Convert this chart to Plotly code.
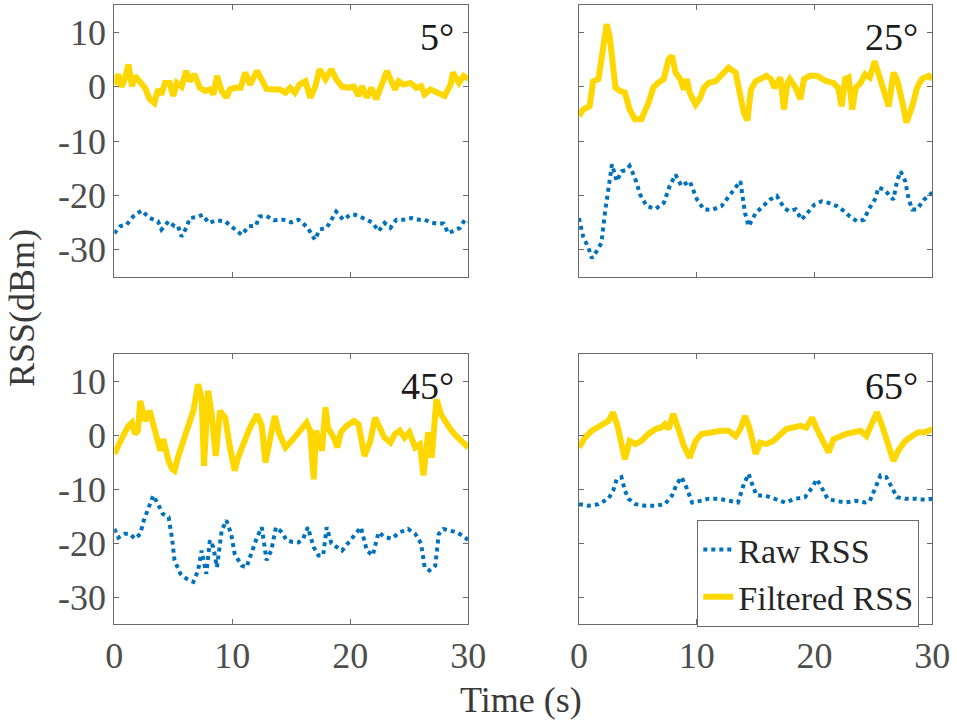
import plotly.graph_objects as go

# ---- 5 degrees ----
t_5_raw = [0, 0.5, 1.05, 1.6, 2.3, 3.0, 3.7, 4.0, 4.6, 5.1, 5.4, 5.7, 6.1, 6.4, 7.0, 7.5, 8.0, 8.7, 9.4,
           9.9, 10.8, 11.4, 12.0, 12.3, 12.9, 13.5, 14.3, 15.0, 15.6, 16.0, 16.4, 17.0, 17.4, 18.0, 18.3,
           18.8, 19.4, 20.0, 20.4, 20.8, 21.4, 21.9, 22.4, 22.9, 23.4, 23.9, 24.5, 25.2, 25.8, 26.3, 26.8,
           27.3, 27.9, 28.3, 28.9, 29.3, 29.7, 30.0]
rss_5_raw = [-27.0, -25.7, -25.4, -23.9, -22.8, -24.2, -24.8, -26.3, -24.8, -25.7, -25.7, -27.6, -26.0,
             -24.2, -24.0, -23.6, -25.1, -24.6, -24.8, -25.7, -27.3, -25.7, -25.6, -23.9, -23.8, -24.6,
             -24.5, -25.0, -24.5, -25.2, -26.0, -28.2, -26.3, -26.0, -24.8, -23.0, -24.5, -23.6, -23.6,
             -23.9, -24.5, -25.1, -26.6, -25.1, -26.0, -24.5, -24.5, -24.2, -24.5, -24.5, -25.0, -25.2,
             -25.2, -27.0, -26.3, -26.0, -24.5, -24.8]
t_5_filt = [0, 0.34, 0.6, 0.9, 1.2, 1.5, 1.75, 2.2, 2.6, 3.0, 3.4, 3.7, 4.0, 4.3, 4.7, 5.0, 5.3, 5.7,
            6.1, 6.4, 6.8, 7.25, 7.7, 8.1, 8.4, 8.7, 9.1, 9.5, 9.8, 10.2, 10.7, 11.1, 11.5, 12.1, 12.5,
            12.9, 13.5, 14.0, 14.5, 14.9, 15.3, 15.7, 16.2, 16.6, 17.0, 17.4, 17.9, 18.4, 18.8, 19.3,
            19.8, 20.3, 20.7, 21.0, 21.4, 21.8, 22.2, 22.7, 23.1, 23.4, 23.8, 24.1, 24.5, 25.1, 25.6,
            26.0, 26.3, 26.8, 27.3, 28.0, 28.5, 28.7, 29.2, 29.6, 30.0]
rss_5_filt = [0.4, 2.3, 0.0, 1.4, 4.1, 0.1, 2.0, 1.0, -0.2, -2.3, -3.0, -0.5, -1.4, 0.7, 0.7, -1.7, 0.7,
              0.0, 2.9, 1.0, 2.3, -0.2, -0.8, -0.5, -1.4, 2.0, -0.8, -2.0, -0.5, -0.2, -0.2, 2.6, 0.4,
              2.9, 1.4, -0.4, -0.5, -0.5, -1.1, -0.2, -1.1, 0.4, 1.0, -2.0, -0.2, 3.2, 1.4, 3.2, 1.4,
              0.0, -0.2, 0.0, -1.7, 0.1, -2.0, -0.2, -2.3, 1.0, 2.9, 1.4, -0.5, 1.0, 0.4, 0.7, -0.2,
              0.1, -1.4, -0.5, -1.1, -1.7, 0.4, 2.6, 0.7, 2.0, 1.4]

# ---- 25 degrees ----
t_25_raw = [0, 0.35, 0.8, 1.1, 1.5, 1.9, 2.2, 2.5, 2.8, 3.2, 3.6, 4.05, 4.3, 4.75, 5.2, 5.75, 6.5, 7.2,
            7.7, 8.2, 8.7, 9.4, 10.0, 10.6, 11.3, 12.1, 13.0, 13.7, 14.1, 14.4, 15.0, 15.7, 16.2, 16.8,
            17.4, 17.8, 18.4, 18.9, 19.4, 20.0, 20.6, 21.2, 21.9, 22.5, 23.0, 23.6, 24.2, 24.6, 25.2,
            25.4, 25.9, 26.4, 26.7, 27.0, 27.3, 27.7, 28.0, 28.3, 28.7, 29.3, 30.0]
rss_25_raw = [-24.2, -27.6, -29.7, -31.6, -30.3, -28.8, -23.3, -18.3, -14.3, -17.4, -15.6, -15.3, -14.6,
              -16.8, -19.9, -22.0, -22.5, -21.4, -18.3, -16.2, -18.3, -17.4, -20.7, -22.6, -22.7, -22.0,
              -19.5, -17.4, -23.3, -25.7, -23.3, -21.7, -20.8, -20.1, -22.3, -22.9, -22.6, -24.5, -23.3,
              -21.7, -21.1, -21.4, -22.0, -22.9, -23.9, -24.8, -24.5, -22.6, -20.5, -18.6, -18.9, -20.1,
              -20.8, -17.4, -15.6, -17.4, -20.8, -22.6, -22.6, -20.8, -19.5]
t_25_filt = [0, 0.35, 0.9, 1.2, 1.65, 1.9, 2.35, 2.6, 3.1, 3.5, 3.9, 4.3, 4.75, 5.3, 5.9, 6.3, 6.7, 7.2,
             7.6, 7.9, 8.2, 8.6, 8.9, 9.15, 9.4, 9.9, 10.3, 10.6, 11.0, 11.6, 12.1, 12.7, 13.3, 13.7,
             14.0, 14.3, 14.6, 15.0, 15.4, 15.9, 16.3, 16.6, 17.1, 17.4, 17.7, 17.9, 18.4, 18.8, 19.1,
             19.6, 20.2, 20.6, 21.0, 21.6, 22.0, 22.3, 22.6, 22.9, 23.2, 23.5, 23.9, 24.3, 24.7, 25.1,
             25.6, 26.0, 26.3, 26.7, 27.0, 27.4, 27.8, 28.3, 28.7, 29.1, 29.7, 30.0]
rss_25_filt = [-5.4, -4.2, -3.6, 1.0, 1.4, 5.0, 11.5, 9.4, -0.2, -0.8, -1.1, -4.2, -6.0, -6.0, -3.0,
               -0.2, 0.7, 1.4, 5.0, 5.7, 2.6, 1.4, -0.5, 1.4, -1.1, -3.3, -2.0, -0.2, 0.7, 1.0, 2.3,
               3.5, 2.6, -1.1, -4.8, -6.2, -0.5, 1.0, 1.4, 2.0, 1.4, -0.2, 1.7, -4.2, 0.7, 1.4, -0.2,
               -2.3, 1.4, 2.0, 2.0, 1.4, 1.0, 0.7, -0.2, -3.6, 1.4, 1.7, -4.2, -0.2, 0.7, 2.3, 1.7,
               4.7, 1.4, -0.8, -3.6, 2.6, 1.4, -2.3, -6.6, -3.6, -0.2, 1.4, 2.0, 1.4]

# ---- 45 degrees ----
t_45_raw = [0, 0.35, 0.9, 1.3, 1.75, 2.2, 2.5, 2.9, 3.3, 3.7, 4.1, 4.6, 4.9, 5.1, 5.6, 6.1, 6.7, 7.1, 7.4,
            7.8, 8.1, 8.4, 8.7, 9.1, 9.5, 9.9, 10.2, 10.8, 11.2, 11.6, 12.1, 12.5, 12.9, 13.3, 13.7,
            14.2, 14.6, 15.1, 15.6, 16.0, 16.4, 16.9, 17.3, 17.7, 18.0, 18.4, 18.9, 19.3, 20.0, 20.5,
            20.9, 21.4, 21.9, 22.4, 22.9, 23.5, 24.2, 24.9, 25.5, 26.0, 26.3, 26.7, 27.2, 27.5, 27.9,
            28.4, 29.0, 29.7, 30.0]
rss_45_raw = [-17.4, -19.0, -18.3, -18.3, -19.2, -18.3, -15.8, -13.4, -11.2, -12.8, -14.6, -15.2, -19.2,
              -23.2, -25.7, -26.6, -27.2, -25.1, -21.4, -25.7, -19.5, -20.8, -24.5, -17.7, -15.8, -18.3,
              -22.0, -24.2, -24.5, -22.0, -18.9, -17.1, -23.2, -21.4, -17.1, -18.0, -19.5, -19.8, -19.9,
              -19.2, -17.1, -20.8, -22.3, -22.3, -17.1, -20.1, -20.8, -21.4, -19.5, -18.3, -17.1, -21.4,
              -22.3, -18.0, -18.9, -19.2, -18.0, -17.4, -18.3, -20.1, -24.5, -25.1, -24.2, -18.3, -17.4,
              -17.7, -18.0, -18.9, -19.5]
t_45_filt = [0, 0.35, 0.76, 1.2, 1.5, 1.75, 2.0, 2.2, 2.6, 3.0, 3.4, 3.9, 4.15, 4.6, 4.9, 5.1, 5.4, 5.9,
             6.3, 6.7, 7.1, 7.4, 7.6, 7.95, 8.25, 8.6, 8.95, 9.4, 9.8, 10.2, 10.5, 10.9, 11.5, 12.1,
             12.5, 12.8, 13.2, 13.6, 14.0, 14.5, 14.9, 15.5, 16.0, 16.3, 16.6, 16.9, 17.1, 17.6, 17.9,
             18.1, 18.6, 18.9, 19.2, 19.7, 20.3, 20.7, 21.2, 21.7, 22.1, 22.5, 22.9, 23.4, 23.8, 24.2,
             24.6, 25.0, 25.5, 25.9, 26.2, 26.6, 26.9, 27.3, 27.7, 28.3, 28.8, 29.4, 30.0]
rss_45_filt = [-3.5, -1.7, -0.1, 1.7, 2.3, 0.2, 0.8, 6.3, 2.6, 4.5, 1.4, -2.9, -0.8, -4.8, -6.3, -6.6,
               -4.1, -0.5, 1.7, 4.5, 9.4, 6.9, -5.7, 8.2, 3.8, -3.9, 4.5, 3.2, -2.3, -6.6, -4.1, -2.0,
               1.4, 3.8, 1.7, -5.1, -0.5, 3.5, 0.2, -2.3, -1.4, 0.2, 1.1, 2.3, 0.8, -8.2, 0.8, -2.9,
               5.1, 1.4, -0.5, -2.3, 0.5, 1.7, 2.6, 2.0, -3.9, -1.1, 3.2, 1.4, -0.5, -1.4, 0.2, 0.8,
               -0.5, 0.5, -2.3, -1.7, -7.5, 0.5, -4.2, 6.6, 3.8, 1.7, 0.2, -1.1, -2.3]

# ---- 65 degrees ----
t_65_raw = [0, 0.8, 1.65, 2.5, 2.9, 3.2, 3.6, 3.9, 4.2, 4.8, 5.6, 6.5, 7.3, 7.9, 8.3, 8.7, 9.1, 9.6, 10.3,
            11.0, 11.8, 12.7, 13.5, 14.0, 14.4, 14.8, 15.1, 15.8, 16.7, 17.5, 18.4, 19.2, 19.8, 20.2,
            20.6, 21.1, 21.8, 22.6, 23.5, 24.3, 24.7, 25.2, 25.6, 26.1, 26.6, 27.0, 27.7, 28.6, 29.4,
            30.0]
rss_65_raw = [-12.8, -13.1, -12.8, -11.8, -10.3, -8.2, -7.8, -10.3, -11.8, -12.8, -13.1, -13.1, -12.8,
              -11.2, -9.1, -7.8, -9.6, -12.5, -12.2, -11.8, -11.8, -12.2, -12.5, -9.1, -7.2, -9.7, -11.2,
              -11.2, -11.8, -12.5, -11.8, -11.5, -9.7, -8.2, -9.7, -11.8, -12.2, -12.5, -12.2, -12.5,
              -12.2, -9.7, -7.5, -7.8, -9.7, -11.5, -11.8, -11.8, -12.0, -11.8]
t_65_filt = [0, 0.5, 1.1, 1.65, 2.2, 2.5, 2.9, 3.3, 3.9, 4.3, 4.8, 5.3, 5.9, 6.5, 7.0, 7.3, 7.6, 8.0, 8.4,
             8.9, 9.4, 9.9, 10.4, 11.0, 11.6, 12.1, 12.7, 13.3, 13.7, 14.1, 14.5, 15.0, 15.4, 15.9, 16.5,
             17.1, 17.6, 18.2, 18.8, 19.3, 19.8, 20.2, 20.8, 21.2, 21.6, 22.2, 22.7, 23.3, 23.9, 24.4,
             24.9, 25.3, 25.7, 26.1, 26.7, 27.1, 27.7, 28.3, 28.8, 29.4, 30.0]
rss_65_filt = [-2.3, -0.5, 0.8, 1.4, 2.0, 2.6, 4.2, 1.4, -4.5, -1.1, -1.7, -1.1, 0.2, 1.1, 1.4, 2.0, 1.1,
               3.9, 1.4, -2.0, -4.2, -1.1, 0.2, 0.5, 0.8, 0.8, 0.8, -0.2, 1.1, 3.5, 1.1, -3.5, -1.4,
               -1.7, -1.1, 0.2, 1.1, 1.4, 1.7, 1.4, 3.2, 1.1, -1.4, -3.2, -0.8, -0.2, 0.2, 0.5, 0.8,
               -0.2, 2.0, 4.2, 2.0, -1.1, -4.8, -2.9, -1.1, -0.2, 0.5, 0.5, 1.1]

panels = [
    ("5°", t_5_raw, rss_5_raw, t_5_filt, rss_5_filt),
    ("25°", t_25_raw, rss_25_raw, t_25_filt, rss_25_filt),
    ("45°", t_45_raw, rss_45_raw, t_45_filt, rss_45_filt),
    ("65°", t_65_raw, rss_65_raw, t_65_filt, rss_65_filt),
]

x_ticks = [0, 10, 20, 30]
x_tick_text = ["0", "10", "20", "30"]
y_ticks = [-30, -20, -10, 0, 10]
y_tick_text = ["-30", "-20", "-10", "0", "10"]

W, H = 957, 725
col_domains = [[114.3 / W, 468.3 / W], [579.0 / W, 932.3 / W]]
row_domains = [[1 - 276.7 / H, 1 - 5.3 / H], [1 - 624.0 / H, 1 - 354.0 / H]]

RAW_COLOR = "#0072BD"
FILT_COLOR = "#FFD700"
FRAME = "#6a6a6a"
SERIF = "Liberation Serif"

# serif text everywhere by default
serif_template = go.layout.Template(layout=dict(font=dict(family=SERIF, color="#3a3a3a")))

fig = go.Figure()
layout = {}
for i, (label, tr, vr, tf, vf) in enumerate(panels):
    row, col = divmod(i, 2)
    n = "" if i == 0 else str(i + 1)
    xa, ya = "x" + n, "y" + n
    fig.add_trace(go.Scatter(x=tr, y=vr, xaxis=xa, yaxis=ya, mode="lines", name="Raw RSS",
                             line=dict(color=RAW_COLOR, width=4, dash="dot"),
                             showlegend=(i == 3)))
    fig.add_trace(go.Scatter(x=tf, y=vf, xaxis=xa, yaxis=ya, mode="lines", name="Filtered RSS",
                             line=dict(color=FILT_COLOR, width=6),
                             showlegend=(i == 3)))
    common = dict(showgrid=False, zeroline=False, showline=True, linecolor=FRAME, linewidth=1,
                  mirror="allticks", ticks="inside", ticklen=5, tickcolor=FRAME, tickwidth=1,
                  tickfont=dict(family=SERIF, size=36, color="#4d4d4d"))
    layout["xaxis" + n] = dict(common, domain=col_domains[col], range=[0, 30],
                               tickvals=x_ticks, ticktext=x_tick_text,
                               showticklabels=(row == 1), anchor=ya)
    layout["yaxis" + n] = dict(common, domain=row_domains[row], range=[-35, 15],
                               tickvals=y_ticks, ticktext=y_tick_text,
                               showticklabels=(col == 0), anchor=xa)
    xr = col_domains[col][1] - 12 / W
    yt = row_domains[row][1] - 32 / H
    fig.add_annotation(text=label, xref="paper", yref="paper", x=xr, y=yt, xanchor="right",
                       yanchor="middle", showarrow=False,
                       font=dict(family=SERIF, size=38, color="#1a1a1a"))

fig.add_annotation(text="Time (s)", xref="paper", yref="paper", x=521 / W, y=1 - 700 / H,
                   xanchor="center", yanchor="middle", showarrow=False,
                   font=dict(family=SERIF, size=36, color="#3a3a3a"))
fig.add_annotation(text="RSS(dBm)", xref="paper", yref="paper", x=22 / W, y=1 - 308 / H,
                   xanchor="center", yanchor="middle", showarrow=False, textangle=-90,
                   font=dict(family=SERIF, size=36, color="#3a3a3a"))

fig.update_layout(
    template=serif_template,
    width=W, height=H, margin=dict(l=0, r=0, t=0, b=0),
    font=dict(family=SERIF),
    plot_bgcolor="white", paper_bgcolor="white",
    legend=dict(x=919.3 / W, y=1 - 520 / H, xanchor="right", yanchor="top",
                bgcolor="white", bordercolor=FRAME, borderwidth=1,
                font=dict(family=SERIF, size=34, color="#262626")),
    **layout,
)

fig.write_html("out.html")
